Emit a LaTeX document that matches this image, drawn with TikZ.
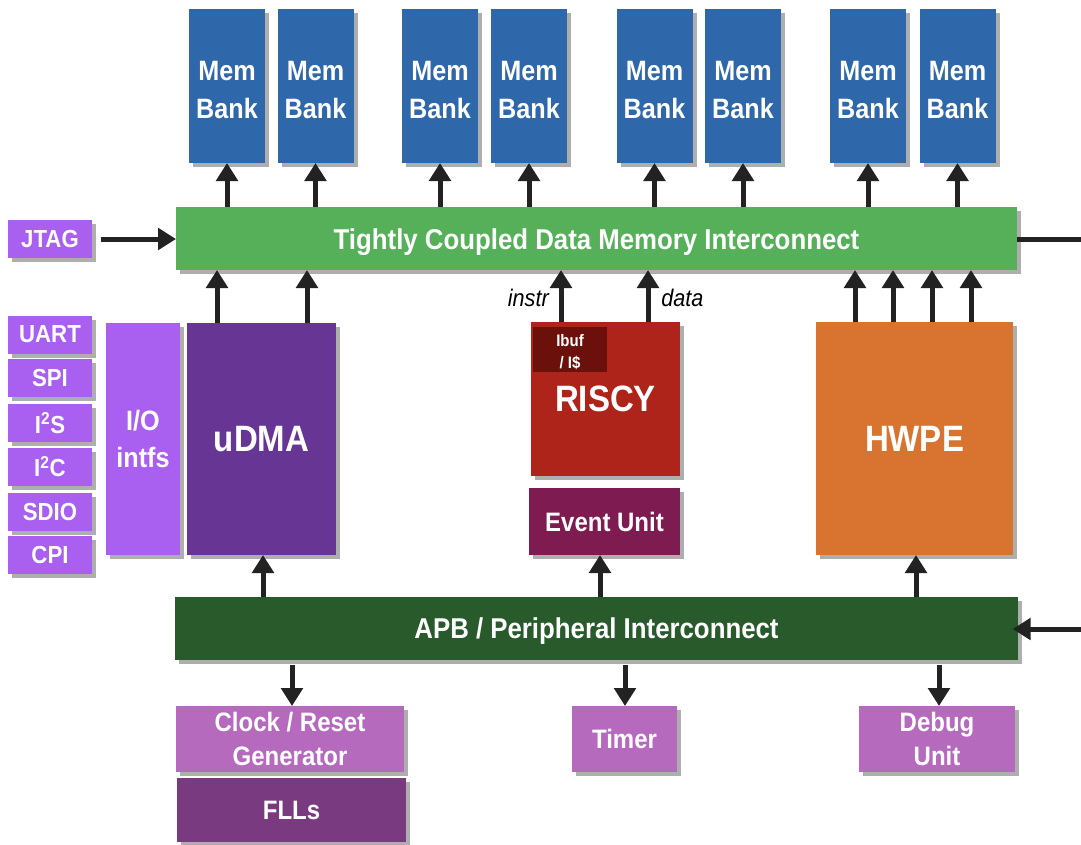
\documentclass[tikz,border=0pt]{standalone}
\usepackage{fontspec}
\setmainfont{Liberation Sans}[FakeStretch=0.9]
\usetikzlibrary{arrows.meta,shadows}
\definecolor{membank}{HTML}{2E67AA}
\definecolor{tcdmc}{HTML}{56B05A}
\definecolor{periph}{HTML}{A95FF0}
\definecolor{udmac}{HTML}{673695}
\definecolor{riscyc}{HTML}{AE231A}
\definecolor{ibufc}{HTML}{6B100B}
\definecolor{evuc}{HTML}{7E1C52}
\definecolor{hwpec}{HTML}{D8742F}
\definecolor{apbc}{HTML}{285A2C}
\definecolor{lilac}{HTML}{B56ABE}
\definecolor{fllc}{HTML}{7A3A7F}
\definecolor{arrowc}{HTML}{222222}
\newcommand{\dropby}[2]{\raisebox{-#1}[\height][\depth]{#2}}
\tikzset{
  blk/.style={rectangle, inner sep=0pt, outer sep=0pt, align=center, text=white,
    drop shadow={shadow xshift=3pt, shadow yshift=-3pt, opacity=0.45, fill=black!70}},
  arr/.style={draw=arrowc, line width=3.75pt, -{Triangle[width=16pt,length=13.5pt]}},
  memfont/.style={font=\fontsize{21}{28}\selectfont\bfseries},
  busfont/.style={font=\fontsize{21.5}{26}\selectfont\bfseries},
  bigfont/.style={font=\fontsize{27.5}{32}\selectfont\bfseries},
  midfont/.style={font=\fontsize{20}{26}\selectfont\bfseries},
  smallfont/.style={font=\fontsize{18.5}{22}\selectfont\bfseries},
  lbl/.style={font=\fontsize{18}{20}\selectfont\itshape, text=black, inner sep=0pt},
}
\begin{document}
\begin{tikzpicture}[x=0.75pt,y=-0.75pt]
\fill[white] (0,0) rectangle (1081,844);
\useasboundingbox (0,0) rectangle (1081,844);

% Memory banks
\foreach \i/\cx in {1/227,2/315.5,3/440,4/529,5/654.5,6/743,7/868,8/957.5}{
  \node[blk, fill=membank, minimum width=57pt, minimum height=115.5pt, memfont] (b\i) at (\cx,86) {\dropby{3pt}{\shortstack{Mem\\[9.5pt]Bank}}};
}

% TCDM interconnect
\node[blk, fill=tcdmc, minimum width=630.75pt, minimum height=47.25pt, busfont] (tcdm) at (596.5,238.5) {\dropby{2.5pt}{Tightly Coupled Data Memory Interconnect}};

% JTAG
\node[blk, fill=periph, minimum width=63pt, minimum height=28.5pt, smallfont] (jtag) at (50,239) {JTAG};

% Peripherals
\node[blk, fill=periph, minimum width=63pt, minimum height=28.5pt, smallfont] (uart) at (50,334.5) {UART};
\node[blk, fill=periph, minimum width=63pt, minimum height=28.5pt, smallfont] (spi) at (50,378) {SPI};
\node[blk, fill=periph, minimum width=63pt, minimum height=28.5pt, smallfont] (i2s) at (50,423) {I\textsuperscript{2}S};
\node[blk, fill=periph, minimum width=63pt, minimum height=28.5pt, smallfont] (i2c) at (50,466.5) {I\textsuperscript{2}C};
\node[blk, fill=periph, minimum width=63pt, minimum height=28.5pt, smallfont] (sdio) at (50,512) {SDIO};
\node[blk, fill=periph, minimum width=63pt, minimum height=28.5pt, smallfont] (cpi) at (50,555) {CPI};

% I/O intfs and uDMA
\node[blk, fill=periph, minimum width=55.5pt, minimum height=174pt, font=\fontsize{21}{27.5}\selectfont\bfseries] (io) at (143,439) {I/O\\intfs};
\node[blk, fill=udmac, minimum width=111.75pt, minimum height=174pt, bigfont] (udma) at (261.5,439) {uDMA};

% RISCY
\node[blk, fill=riscyc, minimum width=111.75pt, minimum height=115.5pt, bigfont] (riscy) at (605.5,399) {RISCY};
\node[rectangle, fill=ibufc, inner sep=0pt, minimum width=55.5pt, minimum height=33.75pt, text=white, align=center, font=\fontsize{12.5}{17}\selectfont\bfseries] (ibuf) at (570,349.5) {\dropby{2pt}{\shortstack{Ibuf\\[4.5pt]/ I\$}}};

% Event unit
\node[blk, fill=evuc, minimum width=113.25pt, minimum height=50.25pt, midfont] (evu) at (604.5,521.5) {Event Unit};

% HWPE
\node[blk, fill=hwpec, minimum width=147.75pt, minimum height=174.75pt, bigfont] (hwpe) at (914.5,438.5) {HWPE};

% APB
\node[blk, fill=apbc, minimum width=632.25pt, minimum height=47.25pt, busfont] (apb) at (596.5,628.5) {\dropby{2pt}{APB / Peripheral Interconnect}};

% Bottom blocks
\node[blk, fill=lilac, minimum width=171pt, minimum height=49.5pt, midfont] (clk) at (290,739) {Clock / Reset\\Generator};
\node[blk, fill=fllc, minimum width=171.75pt, minimum height=48pt, midfont] (fll) at (291.5,810) {FLLs};
\node[blk, fill=lilac, minimum width=78.75pt, minimum height=49.5pt, midfont] (timer) at (624.5,739) {Timer};
\node[blk, fill=lilac, minimum width=117pt, minimum height=49.5pt, midfont] (dbg) at (937,739) {Debug\\Unit};

% Column coordinates
\coordinate (ua) at (217,0);
\coordinate (ub) at (307,0);
\coordinate (ri) at (561,0);
\coordinate (rd) at (648,0);
\coordinate (h1) at (855,0);
\coordinate (h2) at (893,0);
\coordinate (h3) at (932,0);
\coordinate (h4) at (971,0);
\coordinate (pu) at (263,0);
\coordinate (pe) at (600,0);
\coordinate (ph) at (916,0);
\coordinate (dc) at (292,0);
\coordinate (dt) at (625,0);
\coordinate (dd) at (939,0);
\coordinate (tr) at (1081,239);
\coordinate (ar) at (1081,629);

% Arrows to memory banks
\foreach \i in {1,...,8}{
  \draw[arr] (tcdm.north -| b\i) -- (b\i.south);
}

% JTAG arrow
\draw[arr, shorten <=7pt] (jtag.east) -- (tcdm.west |- jtag.east);
% right line from TCDM
\draw[draw=arrowc, line width=3.75pt] (tcdm.east |- tr) -- (tr);

% masters to TCDM
\foreach \c in {ua,ub}{ \draw[arr] (udma.north -| \c) -- (tcdm.south -| \c); }
\draw[arr] (riscy.north -| ri) -- (tcdm.south -| ri);
\draw[arr] (riscy.north -| rd) -- (tcdm.south -| rd);
\foreach \c in {h1,h2,h3,h4}{ \draw[arr] (hwpe.north -| \c) -- (tcdm.south -| \c); }

\node[lbl, anchor=east] (instrlbl) at (549,298) {instr};
\node[lbl, anchor=west] (datalbl) at (661,298) {data};

% APB to masters
\draw[arr] (apb.north -| pu) -- (udma.south -| pu);
\draw[arr] (apb.north -| pe) -- (evu.south -| pe);
\draw[arr] (apb.north -| ph) -- (hwpe.south -| ph);

% external input to APB
\draw[arr, shorten >=-4pt] (ar) -- (apb.east |- ar);

% APB to peripherals
\draw[arr, shorten <=4pt] (apb.south -| dc) -- (clk.north -| dc);
\draw[arr, shorten <=4pt] (apb.south -| dt) -- (timer.north -| dt);
\draw[arr, shorten <=4pt] (apb.south -| dd) -- (dbg.north -| dd);
\end{tikzpicture}
\end{document}
